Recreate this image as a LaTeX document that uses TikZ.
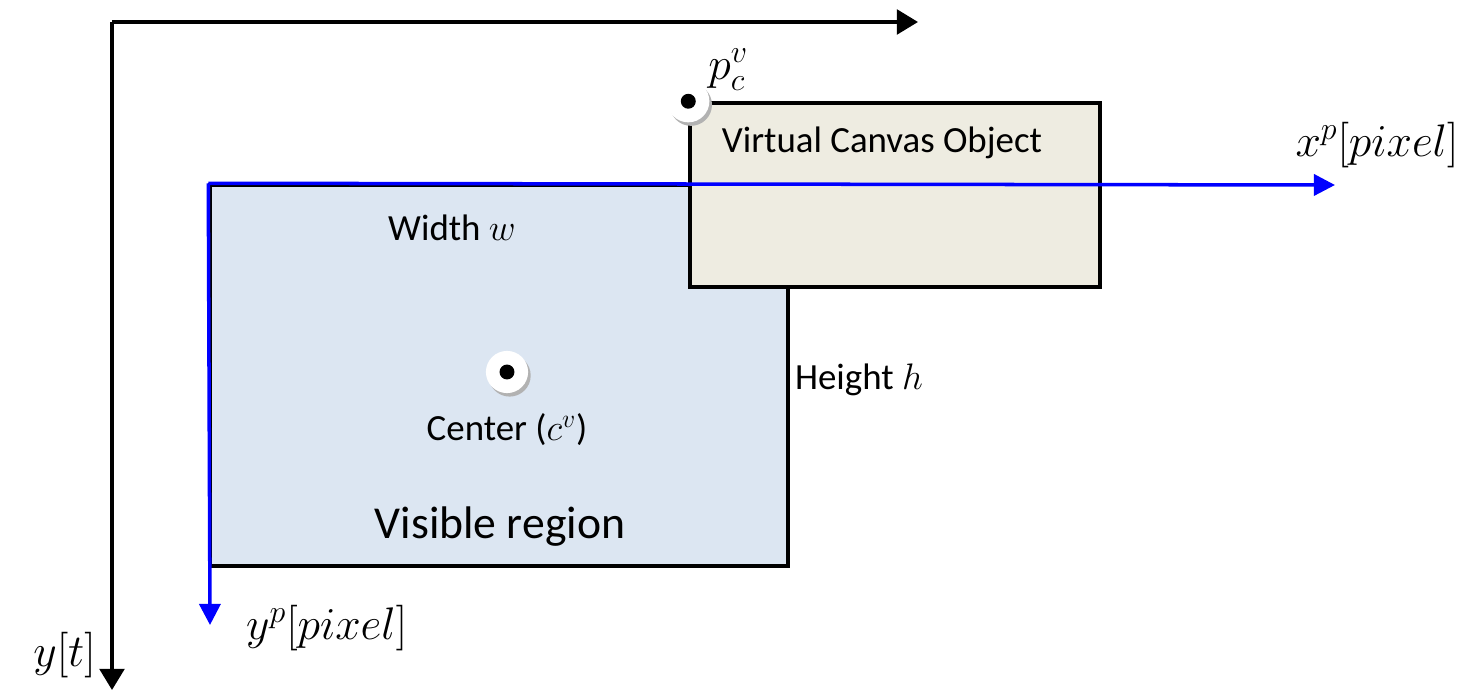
\RequirePackage{fix-cm}
\documentclass[tikz,border=0pt]{standalone}
\usepackage{amsmath}
\usepackage{fontspec}
\setmainfont{Carlito}
\usetikzlibrary{arrows.meta,positioning,calc,shadows}
\definecolor{visfill}{HTML}{DCE6F2}
\definecolor{cvsfill}{HTML}{EEECE1}
\definecolor{pxblue}{HTML}{0000FF}
\newcommand{\lblsize}{\fontsize{21}{24}\selectfont}
\newcommand{\axsize}{\fontsize{26}{30}\selectfont}
\tikzset{
  taxis/.style={line width=2pt, black, -{Triangle[length=12pt,width=14pt]}},
  paxis/.style={line width=2pt, pxblue, -{Triangle[length=12pt,width=12pt]}},
  region/.style={draw=black, line width=2pt, inner sep=0pt},
  pin/.style={circle, fill=white, minimum size=24pt, inner sep=0pt,
    drop shadow={shadow xshift=1.5pt, shadow yshift=-2pt, fill=black!30, opacity=1}},
  pindot/.style={circle, fill=black, minimum size=8.5pt, inner sep=0pt},
  lbl/.style={inner sep=1pt, font=\lblsize},
}

\begin{document}
\begin{tikzpicture}[x=0.02cm, y=-0.02cm]
 \useasboundingbox (0,0) rectangle (1471,692);
 % time axes
 \coordinate (tO) at (112,22);
 \coordinate (tX) at (918,22);
 \coordinate (tY) at (112,690);
 \draw[taxis] (tY |- tO) -- (tX);
 \draw[taxis] (tO) -- (tY);
 \node[font=\axsize, anchor=east] (ylab) at (102,655) {$y[t]$};
 % visible region
 \node[region, fill=visfill, minimum width=11.56cm, minimum height=7.62cm] (vis) at (499,375.5) {};
 \node[lbl] (wid) at (452,228) {Width $w$};
 \node[lbl, anchor=west] (hgt) at (793,380) {Height $h$};
 \node[pin] (cpin) at (507,372) {};
 \node[pindot] (cdot) at (cpin.center) {};
 \node[lbl] (ctr) at (507,430) {Center ($c^{v}$)};
 \node[font=\fontsize{26}{30}\selectfont] (visname) at (500,527) {Visible region};
 % virtual canvas
 \node[region, fill=cvsfill, minimum width=8.2cm, minimum height=3.68cm] (cvs) at (895,195) {};
 \node[lbl] (cvsname) at (882,143) {Virtual Canvas Object};
 \node[pin] (ppin) at (cvs.north west) {};
 \node[pindot] (pdot) at (ppin.center) {};
 \node[font=\axsize, anchor=west, inner sep=0pt] (plab) at (708,70) {$p_c^{v}$};
 % pixel axes
 \coordinate (pO) at (vis.north west);
 \coordinate (pX) at (1335,185);
 \coordinate (pY) at (210,625);
 \draw[paxis] (pO) -- (pX);
 \draw[paxis] (pO) -- (pY);
 \node[font=\axsize] (xlab) at (1377,145) {$x^{p}[pixel]$};
 \node[font=\axsize, anchor=west] (ylab2) at (240,628) {$y^{p}[pixel]$};
\end{tikzpicture}
\end{document}
